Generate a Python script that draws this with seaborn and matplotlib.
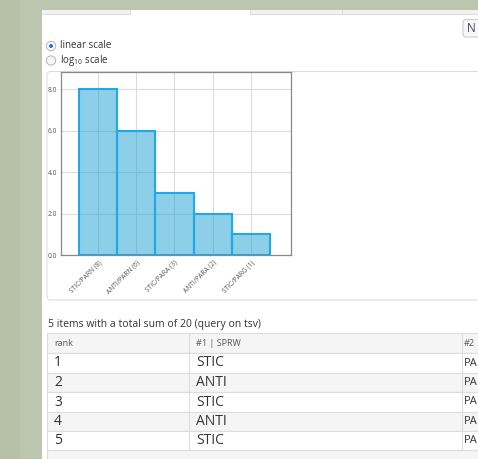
import matplotlib
matplotlib.use("Agg")
import matplotlib.pyplot as plt
from matplotlib.patches import Rectangle, FancyBboxPatch, Circle
import seaborn as sns
import pandas as pd

# ---- data ----
categories = ["STIC/PARN (8)", "ANTI/PARN (6)", "STIC/PARA (3)", "ANTI/PARA (2)", "STIC/PARG (1)"]
values = [8, 6, 3, 2, 1]
yticks = [0, 2, 4, 6, 8]
ytick_labels = ["0.0", "2.0", "4.0", "6.0", "8.0"]
ranks = ["1", "2", "3", "4", "5"]
col1 = ["STIC", "ANTI", "STIC", "ANTI", "STIC"]
col2 = ["PARN", "PARN", "PARA", "PARA", "PARG"]
headers = ["rank", "#1 | SPRW", "#2"]
summary = "5 items with a total sum of 20 (query on tsv)"

sns.set_style("whitegrid")
plt.rcParams['font.family'] = ['Open Sans', 'DejaVu Sans']
plt.rcParams['mathtext.fontset'] = 'custom'
plt.rcParams['mathtext.rm'] = 'Open Sans'

W, H = 478, 459
fig = plt.figure(figsize=(W / 100, H / 100), dpi=100)
fig.patch.set_facecolor("white")

# overlay in pixel coordinates for the page UI
ov = fig.add_axes([0, 0, 1, 1], zorder=0)
ov.set_xlim(0, W)
ov.set_ylim(H, 0)
ov.axis("off")

green = "#bcc5ad"
ov.add_patch(Rectangle((0, 0), W, 10, color=green, lw=0))
ov.add_patch(Rectangle((0, 0), 42, H, color=green, lw=0))
ov.add_patch(Rectangle((0, 0), 20, H, color="#b6c0a6", lw=0))

# tab strip
ov.add_patch(Rectangle((42, 10), 88, 3.5, facecolor="#f2f2f2", edgecolor="none"))
ov.add_patch(Rectangle((250, 10), W - 250, 3.5, facecolor="#f2f2f2", edgecolor="none"))
ov.plot([42, 130], [13.5, 13.5], color="#dddddd", lw=0.8)
ov.plot([250, W], [13.5, 13.5], color="#dddddd", lw=0.8)
for xx in [130, 250, 342]:
    ov.plot([xx, xx], [10, 13.5], color="#dddddd", lw=0.8)

# button
ov.add_patch(FancyBboxPatch((463, 19.5), 30, 17.5, boxstyle="round,pad=0,rounding_size=3",
                            facecolor="#f7f7f7", edgecolor="#cccccc", lw=0.8))
ov.text(467, 28.5, "N", fontsize=8.5, color="#34495e", va="center", ha="left")

# radio buttons
ov.add_patch(Circle((51, 46), 4.6, facecolor="white", edgecolor="#bbbbbb", lw=0.8))
ov.add_patch(Circle((51, 46), 2.0, facecolor="#1a73e8", edgecolor="none"))
ov.add_patch(Circle((51, 60.5), 4.6, facecolor="#f7f7f7", edgecolor="#bbbbbb", lw=0.8))
ov.text(60, 46, "linear scale", fontsize=7, color="#333333", va="center", ha="left")
ov.text(60, 60, r"log$_{\mathrm{10}}$ scale", fontsize=7, color="#333333", va="center", ha="left")

# chart panel
ov.add_patch(FancyBboxPatch((47, 71.5), W, 228.5, boxstyle="round,pad=0,rounding_size=4",
                            facecolor="white", edgecolor="#dddddd", lw=0.8))

# summary text
ov.text(48, 325, summary, fontsize=7.5, color="#333333", va="center", ha="left")

# table
tx = [47, 189, 462]
row_top = [333, 353, 373, 392, 412, 431]
row_bot = [353, 373, 392, 412, 431, 450]
fills = ["#f5f5f5", "white", "#f5f5f5", "white", "#f5f5f5", "white"]
for t, b, f in zip(row_top, row_bot, fills):
    ov.add_patch(Rectangle((47, t), W, b - t, facecolor=f, edgecolor="#dddddd", lw=0.8))
ov.add_patch(Rectangle((47, 450), W, 12, facecolor="#f5f5f5", edgecolor="#dddddd", lw=0.8))
for xx in tx[1:]:
    ov.plot([xx, xx], [333, 450], color="#dddddd", lw=0.8)
for xx, h in zip([54, 196, 464], headers):
    ov.text(xx, 343.5, h, fontsize=6.5, color="#555555", va="center", ha="left")
for i in range(5):
    yc = (row_top[i + 1] + row_bot[i + 1]) / 2
    ov.text(54, yc, ranks[i], fontsize=10, color="#333333", va="center", ha="left")
    ov.text(196, yc, col1[i], fontsize=10, color="#333333", va="center", ha="left")
    ov.text(463.5, yc, col2[i][:2], fontsize=8, color="#333333", va="center", ha="left")

# ---- bar chart ----
ax = fig.add_axes([61 / W, (H - 255) / H, 230 / W, 183 / H], zorder=2)
ax.set_facecolor("white")
df = pd.DataFrame({"cat": categories, "val": values})
sns.barplot(data=df, x="cat", y="val", ax=ax, width=1.0, color="#8fcfec",
            saturation=1, edgecolor="#1fa9e8", linewidth=1.5, zorder=3)
for p in ax.patches:
    p.set_facecolor((29 / 255, 159 / 255, 213 / 255, 0.5))
ax.set_xlim(-0.97, 5.05)
ax.set_ylim(0, 8.84)
ax.set_yticks(yticks)
ax.set_yticklabels(ytick_labels)
ax.set_xlabel("")
ax.set_ylabel("")
ax.grid(True, color="#dcdcdc", lw=0.8, zorder=0)
ax.set_axisbelow(True)
for s in ax.spines.values():
    s.set_color("#888888")
    s.set_linewidth(0.9)
ax.tick_params(axis="both", length=0, labelsize=4.8, labelcolor="#555555")
ax.tick_params(axis="y", pad=2.5)
ax.tick_params(axis="x", pad=3)
for lab in ax.get_xticklabels():
    lab.set_rotation(45)
    lab.set_ha("right")
    lab.set_rotation_mode("anchor")

fig.savefig("out.png", dpi=100)
